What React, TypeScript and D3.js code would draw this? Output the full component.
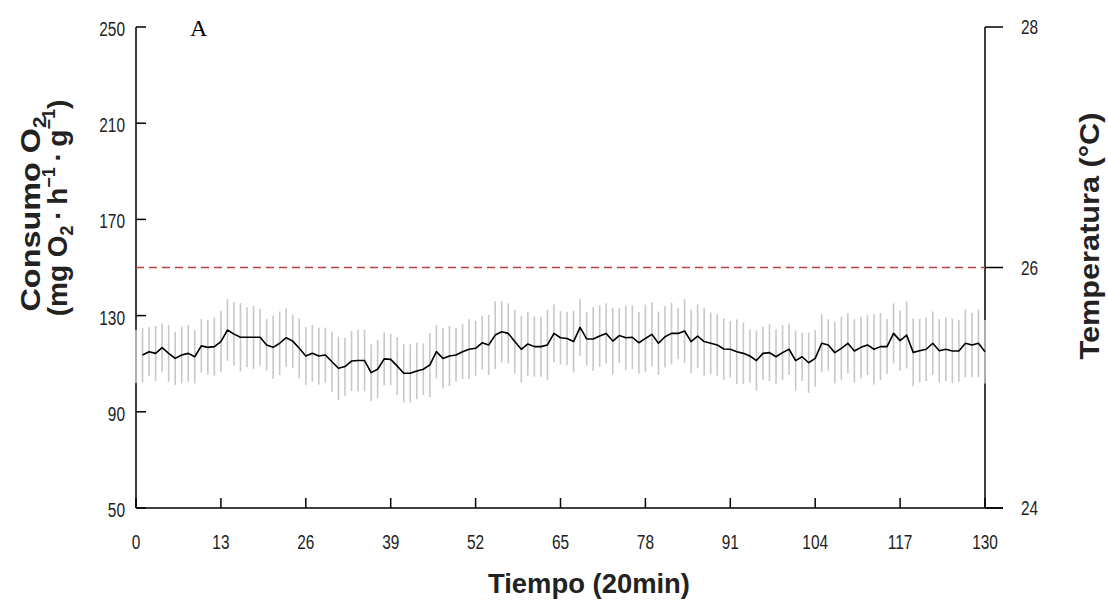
import React from "react";
import * as d3 from "d3";

// Oxygen consumption (mean) per 20-min interval, index 0..130 (index 0 has only an error bar)
const meanO2: number[] = [
  113.0,
  113.6, 115.0, 114.3, 116.7, 114.3, 112.2, 113.6, 114.3, 112.9, 117.4,
  116.8, 117.1, 119.2, 124.0, 122.3, 121.0, 121.0, 121.0, 121.0, 117.8,
  116.8, 118.5, 120.8, 119.4, 116.4, 113.2, 114.3, 113.2, 113.6, 110.8,
  108.1, 108.8, 111.1, 111.3, 111.3, 106.3, 107.7, 112.0, 111.8, 109.0,
  106.0, 106.0, 107.0, 107.7, 109.5, 115.0, 112.2, 113.2, 113.6, 115.0,
  116.0, 116.4, 118.7, 117.8, 121.9, 123.3, 122.6, 119.2, 116.0, 118.2,
  117.1, 117.1, 117.8, 122.6, 120.8, 120.5, 119.2, 125.1, 120.3, 120.3,
  121.5, 122.6, 119.4, 121.7, 120.8, 121.0, 118.7, 120.5, 122.2, 118.5,
  121.2, 122.6, 122.6, 123.6, 119.2, 121.5, 119.2, 118.5, 117.8, 116.1,
  116.0, 115.0, 114.3, 113.2, 111.3, 114.3, 114.6, 112.9, 114.6, 116.0,
  111.3, 112.9, 110.4, 112.2, 118.5, 117.8, 114.6, 116.4, 118.5, 115.3,
  116.8, 117.8, 116.0, 117.1, 117.1, 122.6, 119.6, 121.9, 114.7, 115.4,
  116.0, 118.5, 115.4, 116.0, 115.3, 115.3, 118.5, 117.8, 118.5, 115.0,
];

// Half-length of each error bar (same units as meanO2)
const sdO2: number[] = [
  11.0,
  11.4, 10.2, 11.4, 10.0, 11.8, 11.1, 11.8, 11.8, 11.1, 11.1,
  11.4, 12.1, 12.8, 12.8, 13.2, 14.2, 12.5, 13.2, 11.8, 10.7,
  13.2, 13.2, 12.1, 11.1, 12.5, 12.1, 11.8, 11.8, 11.4, 12.5,
  13.2, 12.1, 12.5, 12.8, 12.8, 11.8, 12.1, 11.1, 10.7, 12.1,
  12.1, 12.1, 11.8, 10.7, 13.3, 11.1, 12.5, 12.5, 11.1, 11.4,
  12.5, 11.4, 11.1, 12.5, 14.1, 12.8, 12.5, 13.2, 13.9, 13.2,
  12.5, 12.5, 14.6, 12.1, 11.1, 11.1, 12.8, 11.8, 11.1, 13.2,
  12.8, 12.5, 13.9, 11.4, 13.4, 13.2, 12.8, 14.1, 13.4, 13.2,
  12.8, 12.8, 10.7, 13.2, 13.2, 13.2, 14.1, 12.8, 12.8, 12.8,
  11.8, 13.4, 12.8, 11.1, 12.5, 11.1, 11.8, 11.4, 11.4, 10.7,
  12.5, 10.0, 12.5, 11.8, 12.1, 10.7, 12.8, 13.2, 12.5, 13.2,
  12.8, 12.5, 14.6, 13.9, 11.4, 12.5, 12.5, 13.9, 14.1, 13.2,
  13.2, 13.2, 13.2, 13.2, 13.4, 12.8, 14.1, 13.4, 14.1, 13.2,
];

// Temperature setpoint (dashed line), start and end of the record
const tempTimes: number[] = [0, 130];
const tempValues: number[] = [26, 26];

const xTicks: number[] = [0, 13, 26, 39, 52, 65, 78, 91, 104, 117, 130];
const yLeftTicks: number[] = [50, 90, 130, 170, 210, 250];
const yRightTicks: number[] = [24, 26, 28];

const W = 1108;
const H = 607;
const left = 136;
const right = 985;
const top = 27;
const bottom = 508;

const x = d3.scaleLinear().domain([0, 130]).range([left, right]);
const yL = d3.scaleLinear().domain([50, 250]).range([bottom, top]);
const yR = d3.scaleLinear().domain([24, 28]).range([bottom, top]);

const tickFont = "'Liberation Sans', Arial, sans-serif";
const labelFont = "'Liberation Sans', Arial, sans-serif";

export default function App() {
  const idx = meanO2.map((_, i) => i);
  const lineGen = d3
    .line<number>()
    .x((i) => x(i))
    .y((i) => yL(meanO2[i]));
  const linePath = lineGen(idx.slice(1)) || "";

  const tempLine = d3
    .line<number>()
    .x((i) => x(tempTimes[i]))
    .y((i) => yR(tempValues[i]));
  const tempPath = tempLine(tempTimes.map((_, i) => i)) || "";

  const narrow = 0.79;
  const tickSize = 19.5;

  return (
    <svg
      width={W}
      height={H}
      style={{ position: "absolute", left: 0, top: 0, background: "#fff" }}
    >
      <rect x={0} y={0} width={W} height={H} fill="#fff" />

      {/* axes lines */}
      <line x1={left} y1={top} x2={left} y2={bottom} stroke="#000" strokeWidth={1.5} />
      <line x1={left} y1={bottom} x2={right + 18} y2={bottom} stroke="#000" strokeWidth={1.5} />
      <line x1={right} y1={top} x2={right} y2={bottom} stroke="#000" strokeWidth={1.5} />

      {/* left ticks (inward) */}
      {yLeftTicks.map((t) => (
        <g key={"yl" + t}>
          <line x1={left} x2={left + 10} y1={yL(t)} y2={yL(t)} stroke="#000" strokeWidth={1.5} />
          <text
            transform={`translate(${left - 11},${yL(t) + 9}) scale(${narrow},1)`}
            textAnchor="end"
            fontFamily={tickFont}
            fontSize={tickSize}
            fill="#222"
          >
            {t}
          </text>
        </g>
      ))}

      {/* bottom ticks (inward) */}
      {xTicks.map((t) => (
        <g key={"x" + t}>
          <line x1={x(t)} x2={x(t)} y1={bottom} y2={bottom - 10} stroke="#000" strokeWidth={1.5} />
          <text
            transform={`translate(${x(t)},${bottom + 41}) scale(${narrow},1)`}
            textAnchor="middle"
            fontFamily={tickFont}
            fontSize={tickSize}
            fill="#222"
          >
            {t}
          </text>
        </g>
      ))}

      {/* right ticks (outward) */}
      {yRightTicks.map((t) => (
        <g key={"yr" + t}>
          <line x1={right} x2={right + 18} y1={yR(t)} y2={yR(t)} stroke="#000" strokeWidth={1.5} />
          <text
            transform={`translate(${right + 36},${yR(t) + 7}) scale(${narrow},1)`}
            textAnchor="start"
            fontFamily={tickFont}
            fontSize={tickSize}
            fill="#222"
          >
            {t}
          </text>
        </g>
      ))}

      {/* temperature dashed line */}
      <path d={tempPath} fill="none" stroke="#b8423f" strokeWidth={1.5} strokeDasharray="8,5" />

      {/* error bars */}
      {idx.map((i) => (
        <line
          key={"e" + i}
          x1={x(i)}
          x2={x(i)}
          y1={yL(meanO2[i] - sdO2[i])}
          y2={yL(meanO2[i] + sdO2[i])}
          stroke="#c8c8c8"
          strokeWidth={1.6}
        />
      ))}

      {/* mean line */}
      <path d={linePath} fill="none" stroke="#000" strokeWidth={1.6} strokeLinejoin="round" />

      {/* panel letter */}
      <text x={190} y={36} fontFamily="'Liberation Serif', 'Times New Roman', serif" fontSize={24}>
        A
      </text>

      {/* axis titles */}
      <text
        x={589}
        y={593}
        textAnchor="middle"
        fontFamily={labelFont}
        fontWeight="bold"
        fontSize={27}
        textLength={202}
        lengthAdjust="spacingAndGlyphs"
        fill="#222"
      >
        Tiempo (20min)
      </text>

      <text
        transform={`translate(40,214) rotate(-90)`}
        textAnchor="middle"
        fontFamily={labelFont}
        fontWeight="bold"
        fontSize={28}
        textLength={195}
        lengthAdjust="spacingAndGlyphs"
        fill="#222"
      >
        Consumo O<tspan fontSize={18} dy={6}>2</tspan>
      </text>
      <text
        transform={`translate(67,208) rotate(-90)`}
        textAnchor="middle"
        fontFamily={labelFont}
        fontWeight="bold"
        fontSize={28}
        fill="#222"
      >
        (mg O<tspan fontSize={18} dy={6}>2</tspan>
        <tspan dy={-6}>{"\u2009·\u2009"}h</tspan>
        <tspan fontSize={18} dy={-12}>−1</tspan>
        <tspan dy={12}>{"\u2009·\u2009"}g</tspan>
        <tspan fontSize={18} dy={-12}>−1</tspan>
        <tspan dy={12}>)</tspan>
      </text>

      <text
        transform={`translate(1099,236) rotate(-90)`}
        textAnchor="middle"
        fontFamily={labelFont}
        fontWeight="bold"
        fontSize={28}
        textLength={247}
        lengthAdjust="spacingAndGlyphs"
        fill="#222"
      >
        Temperatura (°C)
      </text>
    </svg>
  );
}
